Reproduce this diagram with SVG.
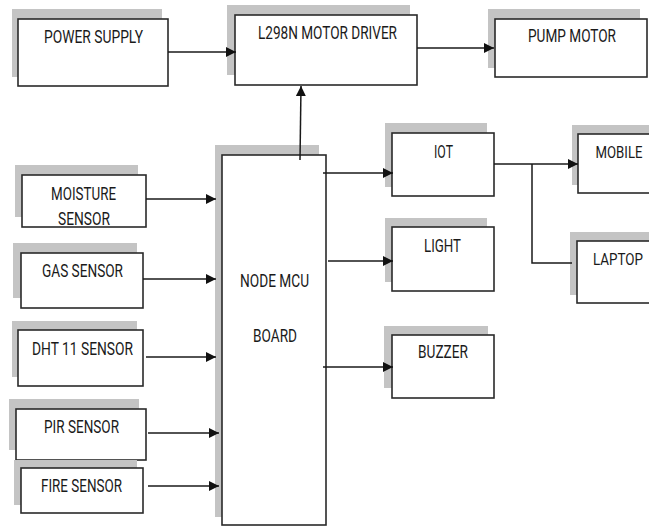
<svg xmlns="http://www.w3.org/2000/svg" width="649" height="527" viewBox="0 0 649 527">
<style>
.sh{fill:#c4c4c4;stroke:none}
.bx{fill:#fff;stroke:#2a2a2a;stroke-width:1.6}
.t{font-family:Roboto,"Liberation Sans",sans-serif;font-size:18.5px;fill:#1a1a1a;text-anchor:middle}
.s{font-size:16px}
.c{fill:none;stroke:#1a1a1a;stroke-width:1.5}
</style>
<defs>
<marker id="ah" viewBox="0 0 10 10" refX="10" refY="5" markerWidth="10" markerHeight="10" markerUnits="userSpaceOnUse" orient="auto">
<path d="M0,0 L10,5 L0,10 z" fill="#111"/>
</marker>
</defs>
<rect width="649" height="527" fill="#fff"/>
<g id="power">
<rect class="sh" x="12" y="9" width="150" height="68"/>
<rect class="bx" x="18" y="19" width="150" height="67"/>
<text class="t" x="93.5" y="43" textLength="99" lengthAdjust="spacingAndGlyphs">POWER SUPPLY</text>
</g>
<g id="driver">
<rect class="sh" x="227" y="5" width="183" height="70"/>
<rect class="bx" x="235" y="15" width="182" height="70"/>
<text class="t" x="327.5" y="39" textLength="139" lengthAdjust="spacingAndGlyphs">L298N MOTOR DRIVER</text>
</g>
<g id="pump">
<rect class="sh" x="488" y="9" width="152" height="59"/>
<rect class="bx" x="495" y="19" width="152" height="58"/>
<text class="t" x="572" y="42" textLength="88" lengthAdjust="spacingAndGlyphs">PUMP MOTOR</text>
</g>
<g id="moisture">
<rect class="sh" x="15" y="165" width="123" height="52"/>
<rect class="bx" x="22" y="175" width="124" height="52"/>
<text class="t" x="83.5" y="200" textLength="65" lengthAdjust="spacingAndGlyphs">MOISTURE</text>
<text class="t" x="84" y="225" textLength="52" lengthAdjust="spacingAndGlyphs">SENSOR</text>
</g>
<g id="gas">
<rect class="sh" x="13" y="243" width="124" height="55"/>
<rect class="bx" x="21" y="253" width="122" height="55"/>
<text class="t" x="82.5" y="277" textLength="81" lengthAdjust="spacingAndGlyphs">GAS SENSOR</text>
</g>
<g id="dht">
<rect class="sh" x="12" y="321" width="125" height="56"/>
<rect class="bx" x="18" y="330" width="125" height="56"/>
<text class="t" x="82.5" y="355" textLength="101" lengthAdjust="spacingAndGlyphs">DHT 11 SENSOR</text>
</g>
<g id="pir">
<rect class="sh" x="9" y="399" width="130" height="51"/>
<rect class="bx" x="16" y="409" width="130" height="51"/>
<text class="t" x="81.5" y="433" textLength="75" lengthAdjust="spacingAndGlyphs">PIR SENSOR</text>
</g>
<g id="fire">
<rect class="sh" x="14" y="460" width="123" height="45"/>
<rect class="bx" x="21" y="468" width="122" height="45"/>
<text class="t" x="81.5" y="492" textLength="81" lengthAdjust="spacingAndGlyphs">FIRE SENSOR</text>
</g>
<g id="nodemcu">
<rect class="sh" x="215" y="145" width="104" height="372"/>
<rect class="bx" x="222" y="155" width="104" height="370"/>
<text class="t" x="274.5" y="287" textLength="69" lengthAdjust="spacingAndGlyphs">NODE MCU</text>
<text class="t" x="275" y="342" textLength="44" lengthAdjust="spacingAndGlyphs">BOARD</text>
</g>
<g id="iot">
<rect class="sh" x="385" y="123" width="102" height="64"/>
<rect class="bx" x="392" y="133" width="102" height="63"/>
<text class="t" x="443.5" y="158" textLength="19" lengthAdjust="spacingAndGlyphs">IOT</text>
</g>
<g id="light">
<rect class="sh" x="385" y="218" width="102" height="64"/>
<rect class="bx" x="392" y="227" width="102" height="64"/>
<text class="t" x="442.5" y="252" textLength="37" lengthAdjust="spacingAndGlyphs">LIGHT</text>
</g>
<g id="buzzer">
<rect class="sh" x="384" y="326" width="104" height="62"/>
<rect class="bx" x="392" y="335" width="102" height="63"/>
<text class="t" x="443" y="358" textLength="50" lengthAdjust="spacingAndGlyphs">BUZZER</text>
</g>
<g id="mobile">
<rect class="sh" x="572" y="125" width="77" height="60"/>
<rect class="bx" x="578" y="134" width="80" height="59"/>
<text class="t s" x="619" y="158" textLength="47" lengthAdjust="spacingAndGlyphs">MOBILE</text>
</g>
<g id="laptop">
<rect class="sh" x="570" y="232" width="79" height="63"/>
<rect class="bx" x="577" y="241" width="80" height="62"/>
<text class="t s" x="618" y="265" textLength="50" lengthAdjust="spacingAndGlyphs">LAPTOP</text>
</g>
<g id="connectors">
<line class="c" x1="168" y1="52" x2="236" y2="52" marker-end="url(#ah)"/>
<line class="c" x1="417" y1="48" x2="494" y2="48" marker-end="url(#ah)"/>
<line class="c" x1="300" y1="160" x2="301" y2="86" marker-end="url(#ah)"/>
<line class="c" x1="146" y1="199" x2="216" y2="199" marker-end="url(#ah)"/>
<line class="c" x1="143" y1="279" x2="216" y2="279" marker-end="url(#ah)"/>
<line class="c" x1="146" y1="357" x2="216" y2="357" marker-end="url(#ah)"/>
<line class="c" x1="148" y1="433" x2="219" y2="433" marker-end="url(#ah)"/>
<line class="c" x1="148" y1="486" x2="219" y2="486" marker-end="url(#ah)"/>
<line class="c" x1="323" y1="173" x2="393" y2="173" marker-end="url(#ah)"/>
<line class="c" x1="328" y1="261" x2="393" y2="261" marker-end="url(#ah)"/>
<line class="c" x1="323" y1="367" x2="393" y2="367" marker-end="url(#ah)"/>
<line class="c" x1="494" y1="164" x2="578" y2="164" marker-end="url(#ah)"/>
<polyline class="c" points="532,164 532,263 572,263"/>
</g>
</svg>
